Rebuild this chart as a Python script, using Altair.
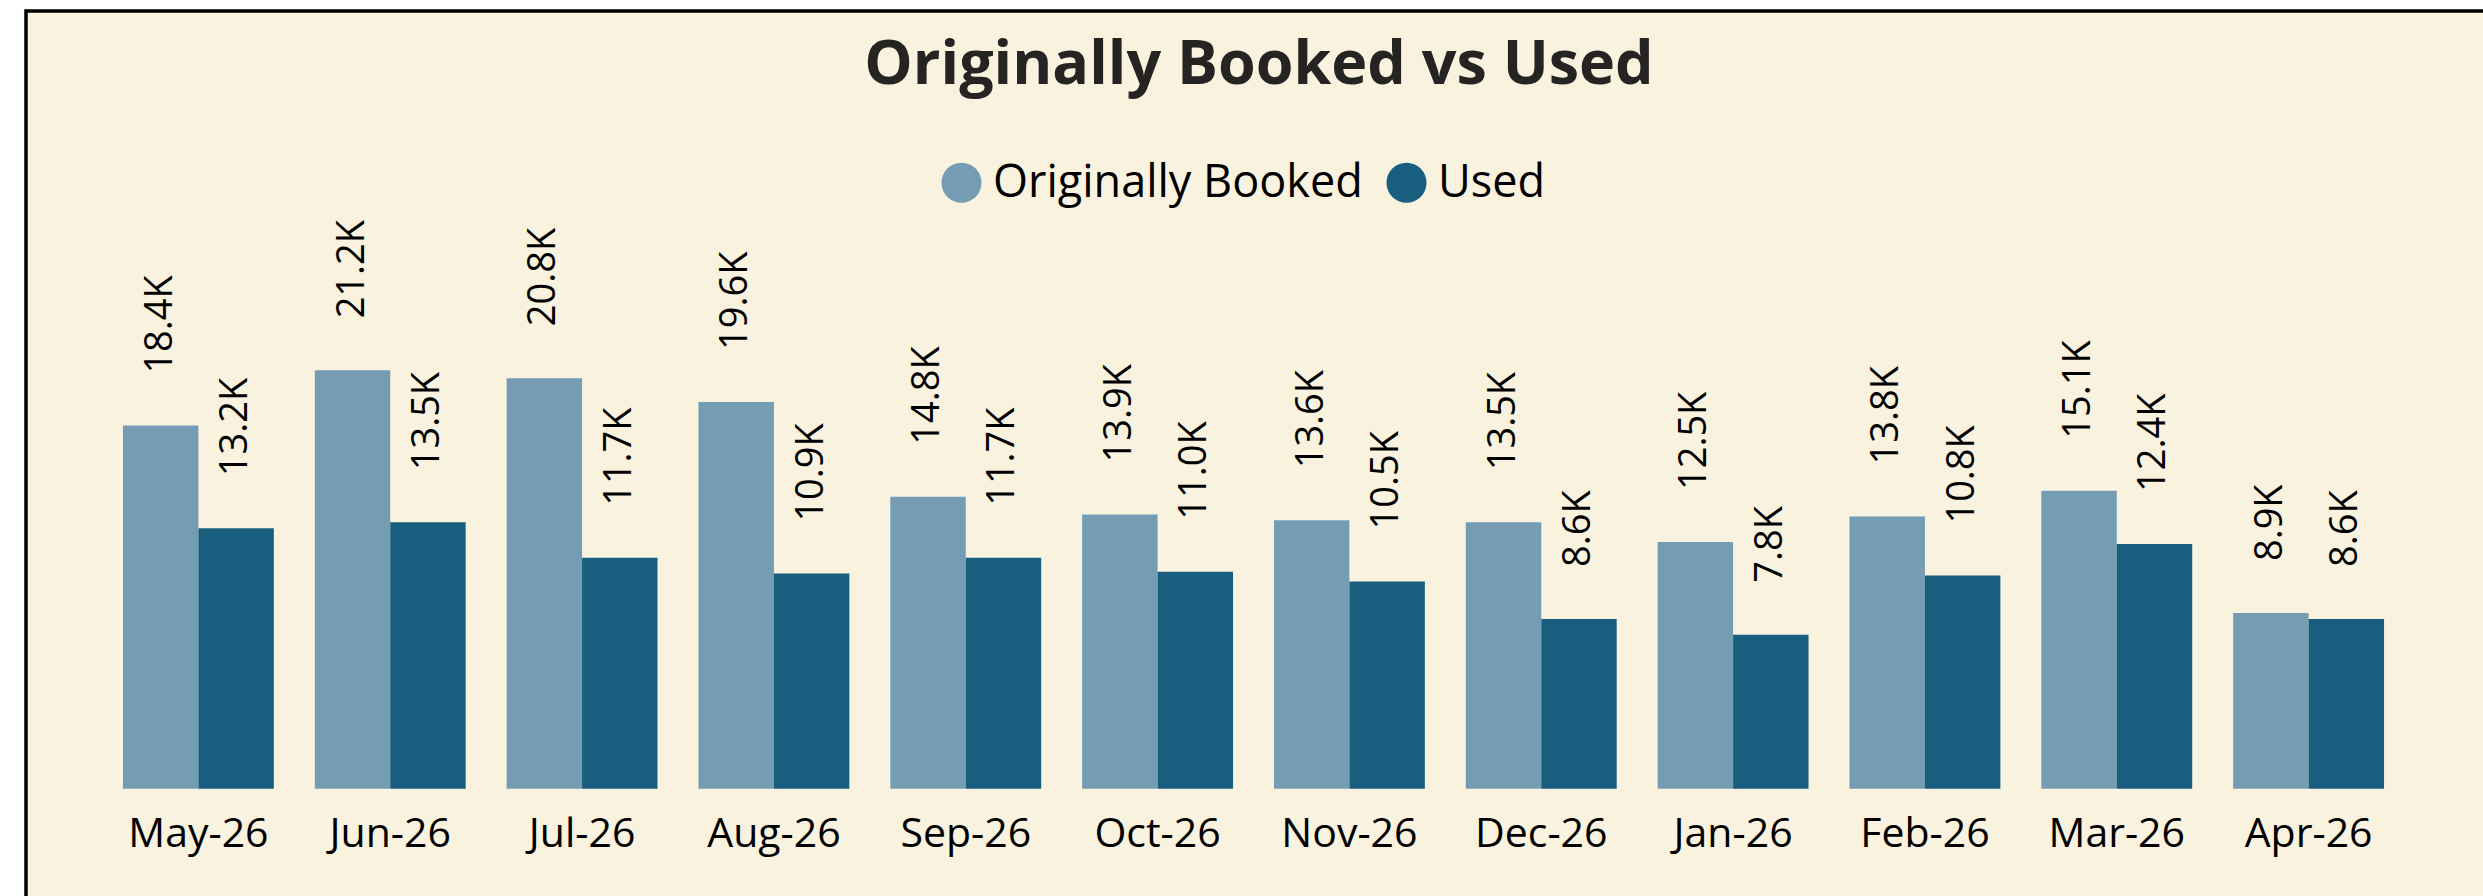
import altair as alt
import pandas as pd

months = ["May-26", "Jun-26", "Jul-26", "Aug-26", "Sep-26", "Oct-26",
          "Nov-26", "Dec-26", "Jan-26", "Feb-26", "Mar-26", "Apr-26"]
booked_k = [18.4, 21.2, 20.8, 19.6, 14.8, 13.9, 13.6, 13.5, 12.5, 13.8, 15.1, 8.9]
used_k = [13.2, 13.5, 11.7, 10.9, 11.7, 11.0, 10.5, 8.6, 7.8, 10.8, 12.4, 8.6]
series = ["Originally Booked", "Used"]
colors = ["#749DB3", "#185E7E"]

BG = "#F9F2DF"
FONT = "Open Sans"

rows = []
for m, b, u in zip(months, booked_k, used_k):
    rows.append({"month": m, "series": series[0], "value": b * 1000})
    rows.append({"month": m, "series": series[1], "value": u * 1000})
df = pd.DataFrame(rows)

PW, PH = 2343, 590
PAD = {"left": 82, "top": 198.7, "right": 58, "bottom": 107.3}

base = alt.Chart(df).transform_calculate(
    label="format(datum.value/1000, '.1f') + 'K'"
).encode(
    x=alt.X("month:N", sort=months,
            scale=alt.Scale(paddingInner=0.2135, paddingOuter=0.2135),
            axis=alt.Axis(title=None, labelAngle=0, labelFont=FONT, labelFontSize=41,
                          labelColor="#000000", domain=False, ticks=False, tickSize=0,
                          labelPadding=26, grid=False, zindex=1)),
    xOffset=alt.XOffset("series:N", sort=series,
                        scale=alt.Scale(paddingInner=0, paddingOuter=0)),
    y=alt.Y("value:Q", scale=alt.Scale(domain=[0, 29900], nice=False), axis=None),
)

bars = base.mark_bar().encode(
    color=alt.Color("series:N", sort=series,
                    scale=alt.Scale(domain=series, range=colors),
                    legend=alt.Legend(title=None, orient="none", legendX=857, legendY=-38.7,
                                      direction="horizontal", symbolType="circle",
                                      symbolSize=1600, symbolStrokeWidth=0, symbolOpacity=1,
                                      labelFont=FONT, labelFontSize=45, labelColor="#000000",
                                      labelOffset=9, columnPadding=21, labelLimit=1000,
                                      padding=0, zindex=2))
)

labels = base.mark_text(angle=270, align="left", baseline="middle", dx=52,
                        font=FONT, fontSize=38, color="#000000").encode(
    text="label:N"
)

frame = alt.Chart(alt.Data(values=[{"f": 1}])).mark_rect(
    fill=BG, stroke="#000000", strokeWidth=3.5
).encode(
    x=alt.value(-56), x2=alt.value(PW + 300),
    y=alt.value(-187.7), y2=alt.value(PH + 300)
)

chart = alt.layer(frame, bars, labels).properties(
    width=PW, height=PH, autosize="none", padding=PAD, background="white",
    title=alt.TitleParams("Originally Booked vs Used", font=FONT, fontSize=61,
                          fontWeight="bold", color="#252423", anchor="middle",
                          frame="group", baseline="alphabetic", offset=-135.5, dx=5.5,
                          zindex=2)
).configure_view(strokeWidth=0)

chart.save("out.html", embed_options={"renderer": "svg", "actions": False})
